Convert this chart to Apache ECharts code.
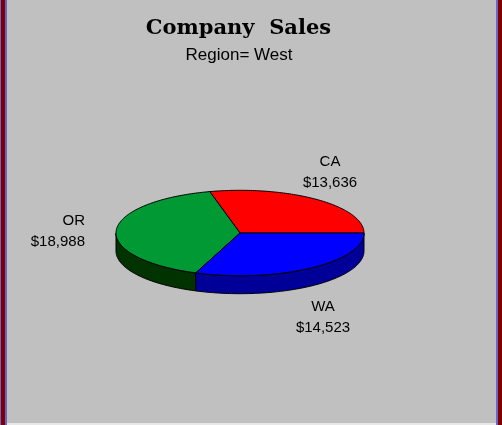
<!DOCTYPE html>
<html><head><meta charset="utf-8">
<style>html,body{margin:0;padding:0;background:#c0c0c0}#c{width:502px;height:425px}</style>
<script src="https://cdn.jsdelivr.net/npm/echarts@6/dist/echarts.min.js"></script>
</head><body><div id="c"></div>
<script>
const categories = ['CA', 'OR', 'WA'];
const sales = [13636, 18988, 14523];
const topColors = ['#ff0000', '#009933', '#0000ff'];
const wallColors = ['#990000', '#003300', '#000099'];
const titleText = 'Company  Sales';
const subtitleText = 'Region= West';

// Layout of the tilted pie
const cx = 240, cy = 233, rx = 124, ry = 42.7, depth = 18;
const labelLayout = [
  { x: 330, y: 172, align: 'center' },
  { x: 85, y: 231, align: 'right' },
  { x: 323, y: 317, align: 'center' }
];
const total = sales.reduce((a, b) => a + b, 0);
const money = v => '$' + v.toLocaleString('en-US');
const pt = (deg, dy) => {
  const a = deg * Math.PI / 180;
  return [cx + rx * Math.cos(a), cy - ry * Math.sin(a) + (dy || 0)];
};
const arc = (from, to, dy) => {
  const pts = [], n = Math.max(2, Math.ceil(Math.abs(to - from)));
  for (let i = 0; i <= n; i++) pts.push(pt(from + (to - from) * i / n, dy));
  return pts;
};
const starts = sales.map((_, i) => sales.slice(0, i).reduce((a, b) => a + b, 0) / total * 360);

function renderItem(params, api) {
  const i = params.dataIndex;
  const from = starts[i];
  const to = from + api.value(1) / total * 360;
  const children = [];
  const wFrom = Math.max(from, 180), wTo = Math.min(to, 360);
  if (wTo > wFrom) {
    children.push({
      type: 'polygon',
      shape: { points: arc(wFrom, wTo, 0).concat(arc(wTo, wFrom, depth)) },
      style: { fill: wallColors[i], stroke: '#000', lineWidth: 1 }
    });
  }
  children.push({
    type: 'polygon',
    shape: { points: [[cx, cy]].concat(arc(from, to, 0)) },
    style: { fill: topColors[i], stroke: '#000', lineWidth: 1, lineJoin: 'round' }
  });
  const l = labelLayout[i];
  children.push({
    type: 'text', x: l.x, y: l.y,
    style: {
      text: categories[i] + '\n' + money(api.value(1)),
      fill: '#000', font: '15px "Liberation Sans"', lineHeight: 21,
      align: l.align, verticalAlign: 'middle'
    }
  });
  return { type: 'group', children };
}

const chart = echarts.init(document.getElementById('c'), null, { renderer: 'canvas' });
chart.setOption({
  animation: false,
  backgroundColor: '#c0c0c0',
  graphic: [
    { type: 'rect', shape: { x: 0, y: 0, width: 1, height: 425 }, style: { fill: '#6666cc' } },
    { type: 'rect', shape: { x: 1, y: 0, width: 4, height: 425 }, style: { fill: '#800000' } },
    { type: 'rect', shape: { x: 5, y: 0, width: 2, height: 425 }, style: { fill: '#6666cc' } },
    { type: 'rect', shape: { x: 496, y: 0, width: 2, height: 425 }, style: { fill: '#6666cc' } },
    { type: 'rect', shape: { x: 498, y: 0, width: 4, height: 425 }, style: { fill: '#800000' } },
    { type: 'rect', shape: { x: 7, y: 423, width: 489, height: 2 }, style: { fill: '#e8e8e8' } },
    { type: 'text', x: 238.5, y: 29, style: { text: titleText, fill: '#000', font: 'bold 21px "DejaVu Serif"', align: 'center', verticalAlign: 'middle' } },
    { type: 'text', x: 239, y: 55, style: { text: subtitleText, fill: '#000', font: '17px "Liberation Sans"', align: 'center', verticalAlign: 'middle' } }
  ],
  series: [{
    type: 'custom',
    coordinateSystem: 'none',
    renderItem,
    data: sales.map((v, i) => [i, v])
  }]
});
</script></body></html>
